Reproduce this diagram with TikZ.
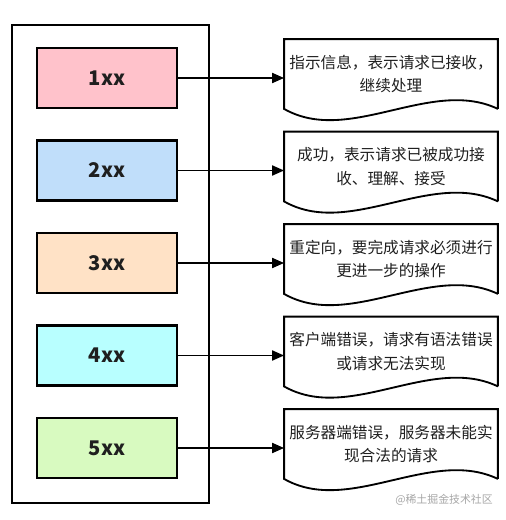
\documentclass[tikz,border=0pt]{standalone}
\usepackage{fontspec}
\setmainfont{Noto Sans CJK SC}
\usetikzlibrary{arrows.meta}
\definecolor{pinkbox}{RGB}{255,194,203}
\definecolor{bluebox}{RGB}{192,222,250}
\definecolor{peachbox}{RGB}{255,226,198}
\definecolor{cyanbox}{RGB}{184,255,255}
\definecolor{greenbox}{RGB}{216,250,192}
\begin{document}
\begin{tikzpicture}[x=0.02cm, y=-0.02cm, line width=1.05pt,
  every node/.style={font=\fontsize{8.9}{13.6}\selectfont, text=black!88},
  code/.style={draw, line width=1.2pt, minimum width=2.8cm, minimum height=1.2cm, font=\fontsize{11.5}{13}\selectfont\bfseries},
  doc/.style={minimum width=4.24cm, minimum height=1.36cm, align=center, inner sep=0pt},
  link/.style={-{Triangle[length=0.24cm,width=0.2cm]}}]
\useasboundingbox (0,0) rectangle (506,520);
\node[draw, line width=1.3pt, minimum width=3.94cm, minimum height=9.56cm] (frame) at (110.5,264) {};
% status classes
\node[code, fill=pinkbox]  (b1) at (107,78)    {1xx};
\node[code, fill=bluebox]  (b2) at (107,170.5) {2xx};
\node[code, fill=peachbox] (b3) at (107,263)   {3xx};
\node[code, fill=cyanbox]  (b4) at (107,355.5) {4xx};
\node[code, fill=greenbox] (b5) at (107,448)   {5xx};
% meanings
\node[doc] (d1) at (391,74)    {指示信息，表示请求已接收，\\继续处理};
\node[doc] (d2) at (391,166.5) {成功，表示请求已被成功接\\收、理解、接受};
\node[doc] (d3) at (391,259)   {重定向，要完成请求必须进行\\更进一步的操作};
\node[doc] (d4) at (391,351.5) {客户端错误，请求有语法错误\\或请求无法实现};
\node[doc] (d5) at (391,444)   {服务器端错误，服务器未能实\\现合法的请求};
\foreach \i in {1,...,5} {
  \draw (d\i.south east) -- (d\i.north east) -- (d\i.north west) -- (d\i.south west)
    .. controls +(65,37) and +(-67,-32) .. (d\i.south east);
  \draw[link] (b\i.east) -- (b\i.east -| d\i.west);
}
\node[text=black!35, font=\fontsize{6.2}{7}\selectfont] (mark) at (444,500) {@稀土掘金技术社区};
\end{tikzpicture}
\end{document}
